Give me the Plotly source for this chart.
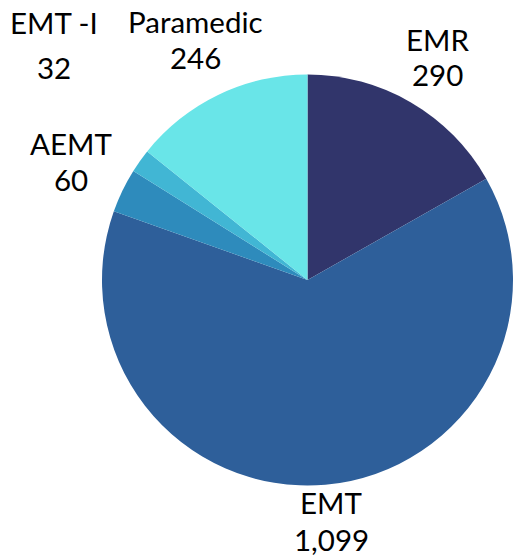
import plotly.graph_objects as go

W, H = 513, 556

categories = ["EMR", "EMT", "AEMT", "EMT -I", "Paramedic"]
values = [290, 1099, 60, 32, 246]
colors = ["#31356B", "#2E5F9A", "#2E8BBC", "#41B6D4", "#69E5E8"]

# label placement in pixels: (x center, name line y center, value line y center)
label_pos = [
    (437, 39, 74),
    (331, 502, 539),
    (71, 144, 179),
    (54, 23, 67),
    (195, 22, 57),
]

fig = go.Figure(go.Pie(
    labels=categories,
    values=values,
    marker=dict(colors=colors, line=dict(width=0)),
    sort=False,
    direction="clockwise",
    rotation=0,
    textinfo="none",
    hoverinfo="label+value",
    showlegend=False,
    domain=dict(x=[102 / W, 1.0], y=[(H - 486) / H, (H - 74) / H]),
))

font = dict(family="Lato", size=29.5, color="#000000")
annotations = []
for name, val, (px, py1, py2) in zip(categories, values, label_pos):
    annotations.append(dict(text=name, x=px / W, y=1 - py1 / H, xref="paper", yref="paper",
                            xanchor="center", yanchor="middle", showarrow=False, font=font))
    annotations.append(dict(text=f"{val:,}", x=px / W, y=1 - py2 / H, xref="paper", yref="paper",
                            xanchor="center", yanchor="middle", showarrow=False, font=font))

fig.update_layout(
    width=W, height=H,
    margin=dict(l=0, r=0, t=0, b=0),
    paper_bgcolor="#FFFFFF",
    plot_bgcolor="#FFFFFF",
    annotations=annotations,
)

fig.write_html("out.html", config={"displayModeBar": False},
               post_script="document.body.style.margin='0';document.body.style.overflow='hidden';")
